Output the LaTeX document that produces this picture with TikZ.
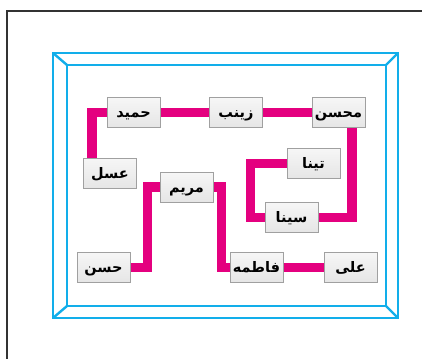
\documentclass[tikz,border=0pt]{standalone}
\usepackage{fontspec}
\usetikzlibrary{backgrounds}
\newfontfamily\arabicfont[Script=Arabic]{DejaVu Sans}
\TeXXeTstate=1
\definecolor{linkmag}{HTML}{E4007F}
\definecolor{framecyan}{HTML}{12AEEA}
\definecolor{boxedge}{HTML}{A0A0A0}
\tikzset{
  namebox/.style={draw=boxedge, line width=1pt, top color=gray!7, bottom color=gray!20,
    minimum width=53pt, minimum height=30pt, inner sep=0pt, text height=10pt, text depth=0pt,
    font=\arabicfont\bfseries\fontsize{14.5}{16}\selectfont},
  link/.style={draw=linkmag, line width=9.5pt, line join=miter, line cap=butt},
  frameline/.style={draw=framecyan, line width=2.4pt},
  outerline/.style={draw=black!80, line width=2.2pt}
}
\newcommand{\ar}[1]{\beginR #1\endR}
\begin{document}
\begin{tikzpicture}[x=1pt,y=-1pt]
\useasboundingbox (0,0) rectangle (422,359);
% outer black frame (top and left only)
\draw[outerline] (422,11) -- (7,11) -- (7,359);
% blue frame
\draw[frameline] (53,53) rectangle (398,318);
\draw[frameline] (67,65) rectangle (386,306);
\draw[frameline] (53,53) -- (67,65);
\draw[frameline] (398,53) -- (386,65);
\draw[frameline] (53,318) -- (67,306);
\draw[frameline] (398,318) -- (386,306);
% boxes
\node[namebox] (hamid)   at (133.5,112.5) {\ar{حمید}};
\node[namebox] (zeynab)  at (236,112.5)   {\ar{زینب}};
\node[namebox] (mohsen)  at (338.5,112.5) {\ar{محسن}};
\node[namebox] (tina)    at (313.5,163.5) {\ar{تینا}};
\node[namebox] (asal)    at (110,173)     {\ar{عسل}};
\node[namebox] (maryam)  at (186.5,187)   {\ar{مریم}};
\node[namebox] (sina)    at (291.5,217.5) {\ar{سینا}};
\node[namebox] (hasan)   at (103.5,267.5) {\ar{حسن}};
\node[namebox] (fatemeh) at (256.5,267.5) {\ar{فاطمه}};
\node[namebox] (ali)     at (350.5,267.5) {\ar{علی}};
% connectors
\begin{pgfonlayer}{background}
\fill[white] (0,0) rectangle (422,359);
\draw[link] (hamid.west) -| ([xshift=-18pt]asal.north);
\draw[link] (hamid.east) -- (zeynab.west);
\draw[link] (zeynab.east) -- (mohsen.west);
\draw[link] ([xshift=13.5pt]mohsen.south) |- (sina.east);
\draw[link] (tina.west) -- ++(-36,0) |- (sina.west);
\draw[link] (maryam.west) -- ++(-12,0) |- (hasan.east);
\draw[link] (maryam.east) -- ++(8,0) |- (fatemeh.west);
\draw[link] (fatemeh.east) -- (ali.west);
\end{pgfonlayer}
\end{tikzpicture}
\end{document}
